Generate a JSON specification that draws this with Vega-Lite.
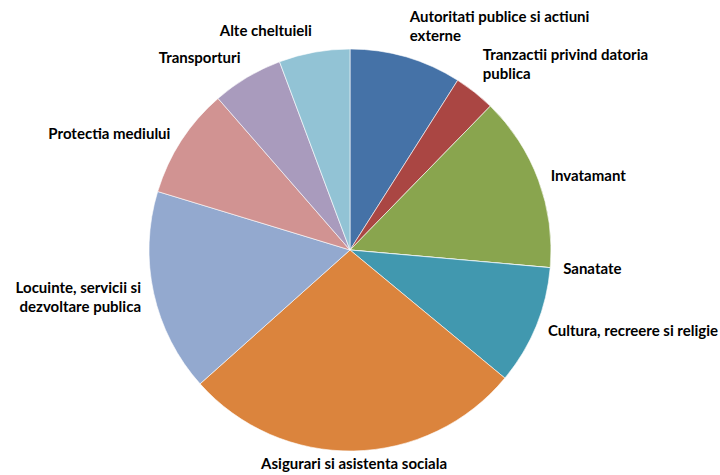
{
  "$schema": "https://vega.github.io/schema/vega-lite/v6.json",
  "width": 700,
  "height": 450,
  "autosize": {"type": "none"},
  "padding": {"left": 0, "top": 25, "right": 20, "bottom": 0},
  "background": "white",
  "data": {
    "values": [
      {"k": 1, "cat": "Autoritati publice si actiuni externe", "label": "Autoritati publice si actiuni\nexterne", "value": 9.0},
      {"k": 2, "cat": "Tranzactii privind datoria publica", "label": "Tranzactii privind datoria\npublica", "value": 3.3},
      {"k": 3, "cat": "Invatamant", "label": "Invatamant", "value": 14.1},
      {"k": 4, "cat": "Sanatate", "label": "Sanatate", "value": 0},
      {"k": 5, "cat": "Cultura, recreere si religie", "label": "Cultura, recreere si religie", "value": 9.6},
      {"k": 6, "cat": "Asigurari si asistenta sociala", "label": "Asigurari si asistenta sociala", "value": 27.4},
      {"k": 7, "cat": "Locuinte, servicii si dezvoltare publica", "label": "Locuinte, servicii si\ndezvoltare publica", "value": 16.3},
      {"k": 8, "cat": "Protectia mediului", "label": "Protectia mediului", "value": 8.9},
      {"k": 9, "cat": "Transporturi", "label": "Transporturi", "value": 5.7},
      {"k": 10, "cat": "Alte cheltuieli", "label": "Alte cheltuieli", "value": 5.7}
    ]
  },
  "encoding": {
    "theta": {"field": "value", "type": "quantitative", "stack": true, "scale": {"domain": [0, 100]}},
    "order": {"field": "k", "type": "quantitative"}
  },
  "layer": [
    {
      "mark": {"type": "arc", "outerRadius": 201, "stroke": "white", "strokeWidth": 0.6},
      "encoding": {
        "color": {
          "field": "cat",
          "type": "nominal",
          "legend": null,
          "scale": {
            "domain": ["Autoritati publice si actiuni externe", "Tranzactii privind datoria publica", "Invatamant", "Sanatate", "Cultura, recreere si religie", "Asigurari si asistenta sociala", "Locuinte, servicii si dezvoltare publica", "Protectia mediului", "Transporturi", "Alte cheltuieli"],
            "range": ["#4572A7", "#AA4643", "#89A54E", "#71588F", "#4198AF", "#DB843D", "#93A9CF", "#D19392", "#A99BBD", "#92C3D5"]
          }
        }
      }
    },
    {
      "mark": {
        "type": "text",
        "radius": 214,
        "font": "Lato",
        "fontWeight": "bold",
        "fontSize": 15,
        "fill": "#000000",
        "lineBreak": "\n",
        "lineHeight": 19,
        "align": {"expr": "((datum.value_start + datum.value_end) * 1.8) < 10 || ((datum.value_start + datum.value_end) * 1.8) >= 356 ? 'center' : (((datum.value_start + datum.value_end) * 1.8) < 170 ? 'left' : (((datum.value_start + datum.value_end) * 1.8) < 190 ? 'center' : 'right'))"},
        "baseline": {"expr": "((datum.value_start + datum.value_end) * 1.8) < 50 || ((datum.value_start + datum.value_end) * 1.8) > 315 ? 'bottom' : 'middle'"},
        "dy": {"expr": "indexof(datum.label, '\\n') < 0 ? 0 : (((datum.value_start + datum.value_end) * 1.8) < 50 || ((datum.value_start + datum.value_end) * 1.8) > 315 ? -19 : -8)"}
      },
      "encoding": {
        "text": {"field": "label", "type": "nominal"}
      }
    }
  ]
}
